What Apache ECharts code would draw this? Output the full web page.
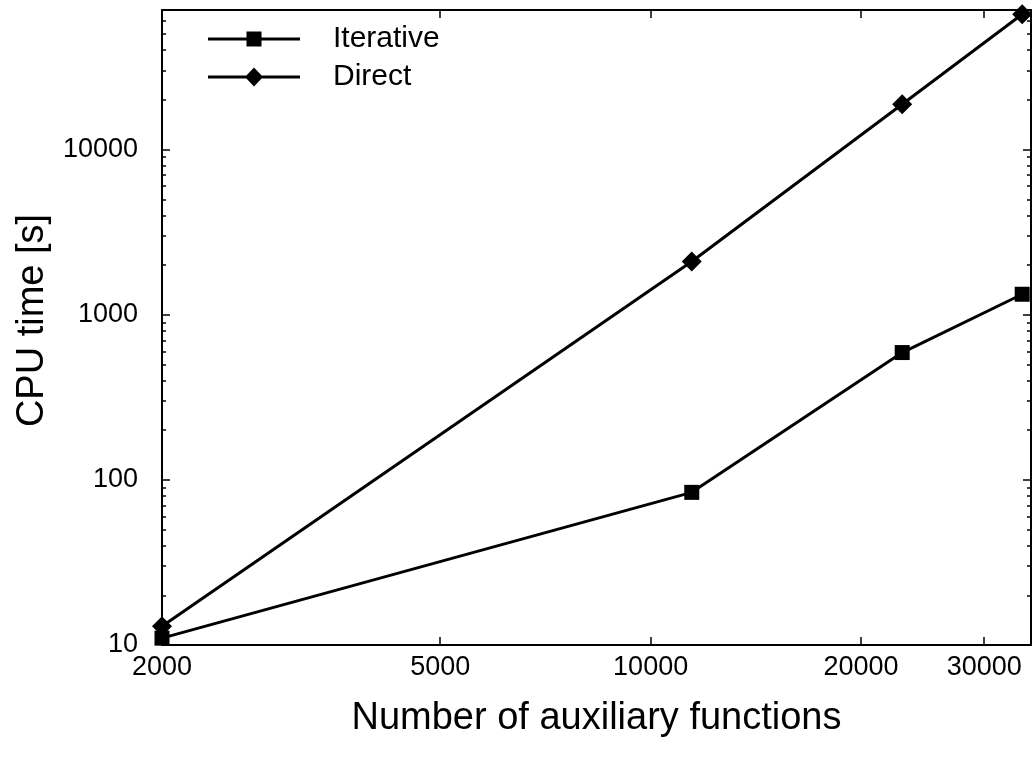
<!DOCTYPE html>
<html>
<head>
<meta charset="utf-8">
<script src="https://cdn.jsdelivr.net/npm/echarts@6/dist/echarts.min.js"></script>
<style>html,body{margin:0;padding:0;background:#fff}#c{width:1034px;height:768px}</style>
</head>
<body>
<div id="c"></div>
<script>
// ---- data ----
const xValues = [2000, 11450, 22900, 34000];
const iterative = [11, 84, 590, 1330];
const direct = [13, 2100, 18800, 66000];
const seriesNames = ['Iterative', 'Direct'];
const xTickLabels = [2000, 5000, 10000, 20000, 30000];
const yTickLabels = [10, 100, 1000, 10000];
const yMinorTicks = [20,30,40,50,60,70,80,90,200,300,400,500,600,700,800,900,2000,3000,4000,5000,6000,7000,8000,9000,20000,30000,40000,50000,60000];
const xRange = [2000, 35000];
const yRange = [10, 70000];

const FONT = 'Liberation Sans, Arial, sans-serif';
const chart = echarts.init(document.getElementById('c'), null, {renderer: 'canvas'});

// legend icons: line with marker in the middle
const iconSquare = 'path://M0 8 H38.5 V2 H53.5 V8 H92 V11 H53.5 V17 H38.5 V11 H0 Z';
const iconDiamond = 'path://M0 8 H38.4 L46 0 L53.6 8 H92 V11 H53.6 L46 19 L38.4 11 H0 Z';

function xAxisDef(pos, labels) {
  return {
    type: 'log', logBase: 10, min: xRange[0], max: xRange[1], position: pos,
    axisLine: {show: true, onZero: false, lineStyle: {color: '#000', width: 2}},
    axisTick: {show: true, inside: true, length: 8, customValues: xTickLabels, lineStyle: {color: '#000', width: 1.5}},
    axisLabel: {show: labels, customValues: xTickLabels, color: '#000', fontFamily: FONT, fontSize: 27, margin: 9,
      formatter: v => String(Math.round(v))},
    splitLine: {show: false}, minorTick: {show: false}, minorSplitLine: {show: false},
    name: labels ? 'Number of auxiliary functions' : '',
    nameLocation: 'middle', nameGap: 55,
    nameTextStyle: {color: '#000', fontFamily: FONT, fontSize: 38}
  };
}
function yAxisDef(pos, ticks, len, labels, line) {
  return {
    type: 'log', logBase: 10, min: yRange[0], max: yRange[1], position: pos,
    axisLine: {show: line, onZero: false, lineStyle: {color: '#000', width: 2}},
    axisTick: {show: true, inside: true, length: len, customValues: ticks, lineStyle: {color: '#000', width: 1.5}},
    axisLabel: {show: labels, customValues: yTickLabels, color: '#000', fontFamily: FONT, fontSize: 27, margin: 24,
      formatter: v => String(Math.round(v))},
    splitLine: {show: false}, minorTick: {show: false}, minorSplitLine: {show: false},
    name: labels ? 'CPU time [s]' : '',
    nameLocation: 'middle', nameGap: 110,
    nameTextStyle: {color: '#000', fontFamily: FONT, fontSize: 38, padding: [0, 0, 0, 14]}
  };
}

const option = {
  backgroundColor: '#fff',
  animation: false,
  grid: {left: 162, right: 3, top: 10, bottom: 123, containLabel: false, outerBoundsMode: 'none'},
  legend: {
    show: true, orient: 'vertical', left: 208, top: 24, padding: 0,
    itemWidth: 92, itemHeight: 19, itemGap: 8,
    data: [{name: seriesNames[0], icon: iconSquare}, {name: seriesNames[1], icon: iconDiamond}],
    itemStyle: {color: '#000'},
    textStyle: {color: '#000', fontFamily: FONT, fontSize: 30, padding: [0, 0, 0, 28]}
  },
  xAxis: [xAxisDef('bottom', true), xAxisDef('top', false)],
  yAxis: [
    yAxisDef('left', yTickLabels, 8, true, true),
    yAxisDef('left', yMinorTicks, 4, false, false),
    yAxisDef('right', yTickLabels, 8, false, true),
    yAxisDef('right', yMinorTicks, 4, false, false)
  ],
  series: [
    {
      name: seriesNames[0], type: 'line', xAxisIndex: 0, yAxisIndex: 0,
      data: xValues.map((x, i) => [x, iterative[i]]),
      symbol: 'rect', symbolSize: 15, clip: false,
      lineStyle: {color: '#000', width: 3}, itemStyle: {color: '#000'}
    },
    {
      name: seriesNames[1], type: 'line', xAxisIndex: 0, yAxisIndex: 0,
      data: xValues.map((x, i) => [x, direct[i]]),
      symbol: 'diamond', symbolSize: 20, clip: false,
      lineStyle: {color: '#000', width: 3}, itemStyle: {color: '#000'}
    }
  ]
};
chart.setOption(option);
</script>
</body>
</html>
